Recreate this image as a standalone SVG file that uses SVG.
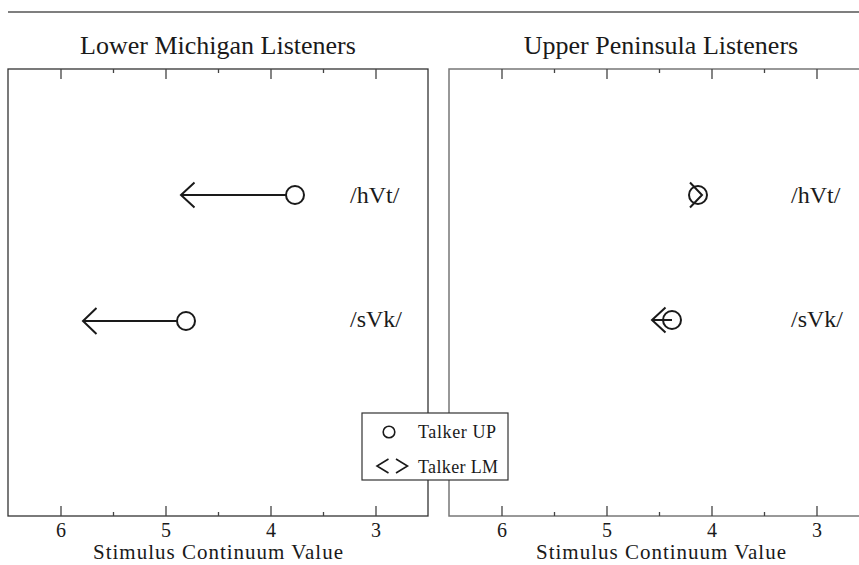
<svg xmlns="http://www.w3.org/2000/svg" width="859" height="565" viewBox="0 0 859 565">
<style>
text{font-family:'Liberation Serif','Times New Roman',serif;fill:#1a1a1a}
.title{font-size:26px;text-anchor:middle}
.row{font-size:24px}
.num{font-size:20px;text-anchor:middle}
.axis{font-size:21px;text-anchor:middle}
.leg{font-size:18px}
.frameL{fill:none;stroke:#333;stroke-width:1.3}
.frameR{fill:none;stroke:#777;stroke-width:1.5}
.tick{stroke:#444;stroke-width:1.3}
.pt{fill:none;stroke:#1a1a1a;stroke-width:2}
.arr{fill:none;stroke:#1a1a1a;stroke-width:2;stroke-linejoin:miter}
</style>
<rect width="859" height="565" fill="#fff"/>
<line x1="8" y1="12" x2="859" y2="12" stroke="#555" stroke-width="1.6"/>

<g id="panel-left">
<text class="title" x="218" y="54">Lower Michigan Listeners</text>
<rect class="frameL" x="8" y="69" width="420" height="447"/>
<g class="tick">
<path d="M61 69v10M113.5 69v4M166 69v10M218.5 69v4M271 69v10M323.5 69v4M376 69v10"/>
<path d="M61 516v-10M113.5 516v-4M166 516v-10M218.5 516v-4M271 516v-10M323.5 516v-4M376 516v-10"/>
</g>
<text class="num" x="61" y="537">6</text>
<text class="num" x="166" y="537">5</text>
<text class="num" x="271" y="537">4</text>
<text class="num" x="376" y="537">3</text>
<text class="axis" x="218" y="559" textLength="250" lengthAdjust="spacing">Stimulus Continuum Value</text>
<text class="row" x="350" y="203">/hVt/</text>
<text class="row" x="350" y="327">/sVk/</text>
</g>

<g id="panel-right">
<text class="title" x="661" y="54">Upper Peninsula Listeners</text>
<rect class="frameR" x="449" y="69" width="420" height="447"/>
<g class="tick">
<path d="M502 69v10M554.5 69v4M607 69v10M659.5 69v4M712 69v10M764.5 69v4M817 69v10"/>
<path d="M502 516v-10M554.5 516v-4M607 516v-10M659.5 516v-4M712 516v-10M764.5 516v-4M817 516v-10"/>
</g>
<text class="num" x="502" y="537">6</text>
<text class="num" x="607" y="537">5</text>
<text class="num" x="712" y="537">4</text>
<text class="num" x="817" y="537">3</text>
<text class="axis" x="661" y="559" textLength="250" lengthAdjust="spacing">Stimulus Continuum Value</text>
<text class="row" x="791" y="203">/hVt/</text>
<text class="row" x="791" y="327">/sVk/</text>
</g>

<g id="point-left-hVt"><circle class="pt" cx="295" cy="195" r="9"/></g>
<g id="point-left-sVk"><circle class="pt" cx="186" cy="321" r="9"/></g>
<g id="point-right-hVt"><circle class="pt" cx="698" cy="195" r="9"/></g>
<g id="point-right-sVk"><circle class="pt" cx="672" cy="320" r="9"/></g>

<g id="connectors">
<path class="arr" d="M286 195H181M194.5 182.5L181 195L194.5 207.5"/>
<path class="arr" d="M177 321H83M96.5 308L83 321L96.5 334"/>
<path class="arr" d="M690 182.5L702 195L690 207.5"/>
<path class="arr" d="M672 320H652M665.5 307.5L652 320L665.5 332.5"/>
</g>

<g id="legend">
<rect x="362" y="413" width="146" height="67" fill="#fff" stroke="#333" stroke-width="1.2"/>
<circle cx="389" cy="432" r="5.8" fill="none" stroke="#1a1a1a" stroke-width="1.6"/>
<path d="M388.5 459L377 466L388.5 473M396 459L407.5 466L396 473" fill="none" stroke="#1a1a1a" stroke-width="1.6"/>
<text class="leg" x="418" y="438" textLength="78" lengthAdjust="spacing">Talker UP</text>
<text class="leg" x="418" y="473" textLength="80" lengthAdjust="spacing">Talker LM</text>
</g>
</svg>
